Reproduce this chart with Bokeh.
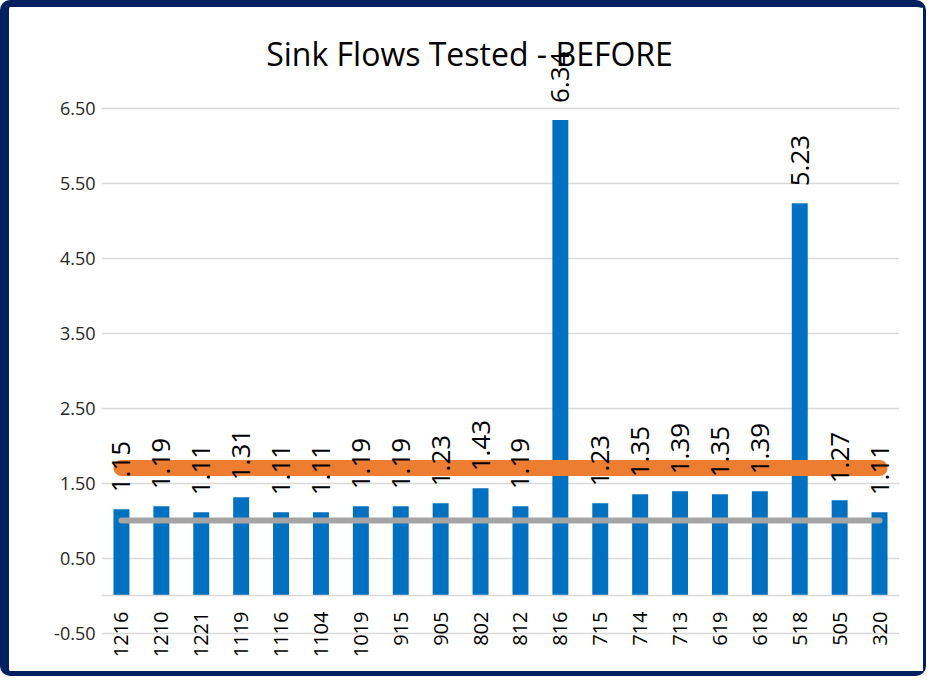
import math
from bokeh.plotting import figure
from bokeh.models import (ColumnDataSource, FixedTicker, NumeralTickFormatter,
                          Range1d, FactorRange, LabelSet, Label, Span)
from bokeh.embed import file_html
from bokeh.resources import INLINE
from bokeh.core.properties import value

categories = ["1216", "1210", "1221", "1119", "1116", "1104", "1019", "915", "905", "802",
              "812", "816", "715", "714", "713", "619", "618", "518", "505", "320"]
flows = [1.15, 1.19, 1.11, 1.31, 1.11, 1.11, 1.19, 1.19, 1.23, 1.43,
         1.19, 6.34, 1.23, 1.35, 1.39, 1.35, 1.39, 5.23, 1.27, 1.11]
upper_limit = [1.70, 1.70, 1.70, 1.70, 1.70, 1.70, 1.70, 1.70, 1.70, 1.70,
               1.70, 1.70, 1.70, 1.70, 1.70, 1.70, 1.70, 1.70, 1.70, 1.70]
lower_limit = [1.00, 1.00, 1.00, 1.00, 1.00, 1.00, 1.00, 1.00, 1.00, 1.00,
               1.00, 1.00, 1.00, 1.00, 1.00, 1.00, 1.00, 1.00, 1.00, 1.00]
y_ticks = [-0.5, 0.5, 1.5, 2.5, 3.5, 4.5, 5.5, 6.5]
title_text = "Sink Flows Tested - BEFORE"

src = ColumnDataSource(dict(
    cat=categories, flow=flows, upper=upper_limit, lower=lower_limit,
    label=[f"{v:.2f}" for v in flows],
    zero=[0.0] * len(categories),
))

FONT = "Open Sans"
PX_PER_UNIT = 75
FRAME_H = 638
Y_MIN = -0.96
Y_MAX = Y_MIN + FRAME_H / PX_PER_UNIT

p = figure(
    x_range=FactorRange(*categories, range_padding=0),
    y_range=Range1d(Y_MIN, Y_MAX),
    frame_width=798, frame_height=FRAME_H,
    min_border_left=92, min_border_right=24, min_border_top=22, min_border_bottom=4,
    output_backend="svg", toolbar_location=None, x_axis_location=None,
    background_fill_color="white", border_fill_color="white",
    styles={"border-style": "solid", "border-color": "#002060",
            "border-width": "7px 3px 5px 9px", "border-radius": "10px",
            "background-color": "white"},
)
p.outline_line_color = None

# y axis
yax = p.yaxis[0]
yax.ticker = FixedTicker(ticks=y_ticks)
yax.formatter = NumeralTickFormatter(format="0.00")
yax.axis_line_color = None
yax.major_tick_line_color = None
yax.minor_tick_line_color = None
yax.major_tick_out = 0
yax.major_tick_in = 0
yax.major_label_standoff = 6
yax.major_label_text_font = FONT
yax.major_label_text_font_size = "18px"
yax.major_label_text_color = "#262626"

p.xgrid.grid_line_color = None
p.ygrid.ticker = FixedTicker(ticks=y_ticks)
p.ygrid.grid_line_color = "#D9D9D9"
p.ygrid.grid_line_width = 1.5

# horizontal axis line at zero
p.add_layout(Span(location=0, dimension="width", line_color="#D9D9D9", line_width=1.5))

# title (screen units, measured from the frame's lower-left corner)
p.add_layout(Label(x=368, y=614, x_units="screen", y_units="screen", text=title_text,
                   text_align="center", text_baseline="alphabetic",
                   text_font=FONT, text_font_size="32px", text_color="#000000"))

# bars
p.vbar(x="cat", top="flow", bottom=0, width=0.4, source=src,
       fill_color="#0070C0", line_color=None)

# reference lines
p.line(x="cat", y="upper", source=src, line_width=16, line_cap="round",
       line_color="#ED7D31")
p.line(x="cat", y="lower", source=src, line_width=6, line_cap="round",
       line_color="#A5A5A5")

# category labels (below the zero line)
p.add_layout(LabelSet(x="cat", y="zero", text="cat", source=src, angle=math.pi / 2,
                      text_align="right", text_baseline="middle", y_offset=-16,
                      text_font=value(FONT), text_font_size="20px",
                      text_color="#000000"))

# data labels
p.add_layout(LabelSet(x="cat", y="flow", text="label", source=src, angle=math.pi / 2,
                      text_align="left", text_baseline="middle", y_offset=17,
                      text_font=value(FONT), text_font_size="26px",
                      text_color="#000000"))

open("out.html", "w").write(file_html(p, INLINE))
